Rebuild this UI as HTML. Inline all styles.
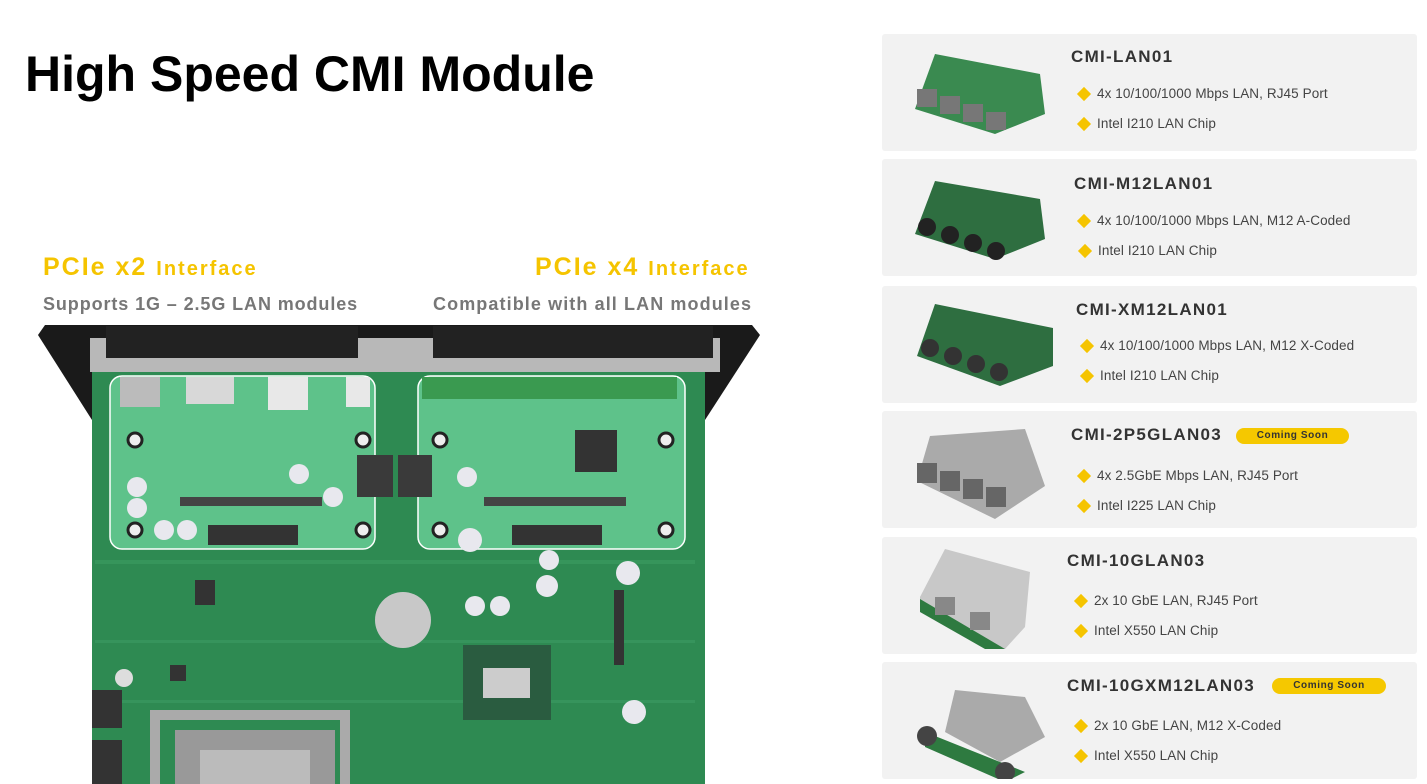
<!DOCTYPE html>
<html><head><meta charset="utf-8"><style>
*{margin:0;padding:0;box-sizing:border-box}
body{width:1427px;height:784px;background:#fff;position:relative;overflow:hidden;font-family:"Liberation Sans",sans-serif}
.a{position:absolute;white-space:nowrap}
.card{position:absolute;left:882px;width:535px;height:117px;background:#f2f2f2;border-radius:3px}
.t{position:absolute;font-weight:bold;font-size:17px;color:#333;letter-spacing:1.3px}
.b{position:absolute;font-size:13.5px;color:#444;letter-spacing:0.1px}
.b:before{content:"";position:absolute;left:-18px;top:3px;width:10px;height:10px;background:#f5c400;transform:rotate(45deg)}
.cs{position:absolute;background:#f5c800;border-radius:9px;font-size:10px;font-weight:bold;color:#333;text-align:center;line-height:16px;height:16px;letter-spacing:0.6px}
</style></head><body>
<div class="a" style="left:25px;top:45px;font-size:50px;font-weight:bold;color:#000">High Speed CMI Module</div>
<div class="a" style="left:43px;top:253px;color:#f5c400;font-weight:bold;font-size:25px;letter-spacing:2px">PCIe x2 <span style="font-size:20px">Interface</span></div>
<div class="a" style="left:43px;top:294px;color:#777;font-weight:bold;font-size:18px;letter-spacing:0.9px">Supports 1G – 2.5G LAN modules</div>
<div class="a" style="left:535px;top:253px;color:#f5c400;font-weight:bold;font-size:25px;letter-spacing:2px">PCIe x4 <span style="font-size:20px">Interface</span></div>
<div class="a" style="left:433px;top:294px;color:#777;font-weight:bold;font-size:18px;letter-spacing:1.1px">Compatible with all LAN modules</div>

<svg class="a" style="left:0;top:0" width="880" height="784">
<polygon points="45,325 752,325 760,335 705,420 92,420 38,335" fill="#1a1a1a"/>
<rect x="92" y="370" width="613" height="414" fill="#2e8a52"/>
<rect x="90" y="338" width="630" height="34" fill="#b8b8b8"/>
<rect x="106" y="326" width="252" height="32" fill="#222"/>
<rect x="433" y="326" width="280" height="32" fill="#222"/>
<g fill="#3c9c63" opacity="0.6">
<rect x="95" y="560" width="600" height="4"/><rect x="95" y="640" width="600" height="3"/><rect x="95" y="700" width="600" height="3"/>
</g>
<rect x="110" y="376" width="265" height="173" rx="12" fill="#5ec28a" stroke="#fff" stroke-width="1.5"/>
<rect x="418" y="376" width="267" height="173" rx="12" fill="#5ec28a" stroke="#fff" stroke-width="1.5"/>
<rect x="186" y="377" width="48" height="27" fill="#d8d8d8"/><rect x="268" y="377" width="40" height="33" fill="#e8e8e8"/><rect x="346" y="377" width="24" height="30" fill="#e8e8e8"/>
<rect x="120" y="377" width="40" height="30" fill="#bbb"/>
<rect x="422" y="377" width="255" height="22" fill="#3a9a50"/>
<rect x="180" y="497" width="142" height="9" fill="#444"/><rect x="484" y="497" width="142" height="9" fill="#444"/>
<rect x="208" y="525" width="90" height="20" fill="#333"/><rect x="512" y="525" width="90" height="20" fill="#333"/>
<rect x="575" y="430" width="42" height="42" fill="#333"/>
<rect x="357" y="455" width="36" height="42" fill="#3a3a3a"/><rect x="398" y="455" width="34" height="42" fill="#3a3a3a"/>
<g fill="#eee" stroke="#222" stroke-width="3">
<circle cx="135" cy="440" r="7"/><circle cx="363" cy="440" r="7"/><circle cx="135" cy="530" r="7"/><circle cx="363" cy="530" r="7"/>
<circle cx="440" cy="440" r="7"/><circle cx="666" cy="440" r="7"/><circle cx="440" cy="530" r="7"/><circle cx="666" cy="530" r="7"/>
</g>
<g fill="#e8e8ee">
<circle cx="137" cy="487" r="10"/><circle cx="137" cy="508" r="10"/><circle cx="164" cy="530" r="10"/><circle cx="187" cy="530" r="10"/>
<circle cx="299" cy="474" r="10"/><circle cx="333" cy="497" r="10"/><circle cx="467" cy="477" r="10"/><circle cx="470" cy="540" r="12"/>
<circle cx="547" cy="586" r="11"/><circle cx="549" cy="560" r="10"/><circle cx="475" cy="606" r="10"/><circle cx="500" cy="606" r="10"/>
<circle cx="628" cy="573" r="12"/><circle cx="634" cy="712" r="12"/>
</g>
<circle cx="403" cy="620" r="28" fill="#c8c8c8"/>
<rect x="463" y="645" width="88" height="75" fill="#2a5c40"/><rect x="483" y="668" width="47" height="30" fill="#ccc"/>
<rect x="614" y="590" width="10" height="75" fill="#333"/>
<path d="M155,784 V715 H345 V784" fill="none" stroke="#aaa" stroke-width="10"/>
<rect x="175" y="730" width="160" height="54" fill="#999"/><rect x="200" y="750" width="110" height="34" fill="#bbb"/>
<rect x="92" y="690" width="30" height="38" fill="#333"/><rect x="92" y="740" width="30" height="44" fill="#333"/>
<circle cx="124" cy="678" r="9" fill="#ddd"/>
<rect x="195" y="580" width="20" height="25" fill="#333"/><rect x="170" y="665" width="16" height="16" fill="#333"/>
</svg>

<div class="card" style="top:34px"></div>
<div class="card" style="top:159px"></div>
<div class="card" style="top:286px"></div>
<div class="card" style="top:411px"></div>
<div class="card" style="top:537px"></div>
<div class="card" style="top:662px"></div>

<svg class="a" style="left:905px;top:34px" width="160" height="745">
<g transform="translate(0,0)"><polygon points="30,20 135,40 140,80 90,100 10,75" fill="#3a8a50"/><g fill="#777"><rect x="12" y="55" width="20" height="18"/><rect x="35" y="62" width="20" height="18"/><rect x="58" y="70" width="20" height="18"/><rect x="81" y="78" width="20" height="18"/></g></g>
<g transform="translate(0,125)"><polygon points="30,22 135,40 140,80 90,100 10,75" fill="#2e6e40"/><g fill="#222"><circle cx="22" cy="68" r="9"/><circle cx="45" cy="76" r="9"/><circle cx="68" cy="84" r="9"/><circle cx="91" cy="92" r="9"/></g></g>
<g transform="translate(0,252)"><polygon points="30,18 148,42 148,80 95,100 12,70" fill="#2e6e40"/><g fill="#333"><circle cx="25" cy="62" r="9"/><circle cx="48" cy="70" r="9"/><circle cx="71" cy="78" r="9"/><circle cx="94" cy="86" r="9"/></g></g>
<g transform="translate(0,377)"><polygon points="25,25 120,18 140,75 90,108 12,70" fill="#aaa"/><g fill="#666"><rect x="12" y="52" width="20" height="20"/><rect x="35" y="60" width="20" height="20"/><rect x="58" y="68" width="20" height="20"/><rect x="81" y="76" width="20" height="20"/></g></g>
<g transform="translate(0,503)"><polygon points="15,60 40,12 125,35 120,90 100,112 15,70" fill="#c8c8c8"/><polygon points="15,62 100,112 80,112 15,75" fill="#2e7a40"/><rect x="30" y="60" width="20" height="18" fill="#888"/><rect x="65" y="75" width="20" height="18" fill="#888"/></g>
<g transform="translate(0,628)"><polygon points="50,28 120,35 140,75 95,100 40,70" fill="#aaa"/><polygon points="20,70 95,100 120,110 100,120 20,85" fill="#2e7a40"/><circle cx="22" cy="74" r="10" fill="#444"/><circle cx="100" cy="110" r="10" fill="#444"/></g>
</svg>

<div class="t" style="left:1071px;top:47px">CMI-LAN01</div>
<div class="b" style="left:1097px;top:86px">4x 10/100/1000 Mbps LAN, RJ45 Port</div>
<div class="b" style="left:1097px;top:116px">Intel I210 LAN Chip</div>

<div class="t" style="left:1074px;top:174px">CMI-M12LAN01</div>
<div class="b" style="left:1097px;top:213px">4x 10/100/1000 Mbps LAN, M12 A-Coded</div>
<div class="b" style="left:1098px;top:243px">Intel I210 LAN Chip</div>

<div class="t" style="left:1076px;top:300px">CMI-XM12LAN01</div>
<div class="b" style="left:1100px;top:338px">4x 10/100/1000 Mbps LAN, M12 X-Coded</div>
<div class="b" style="left:1100px;top:368px">Intel I210 LAN Chip</div>

<div class="t" style="left:1071px;top:425px">CMI-2P5GLAN03</div>
<div class="cs" style="left:1236px;top:428px;width:113px">Coming Soon</div>
<div class="b" style="left:1097px;top:468px">4x 2.5GbE Mbps LAN, RJ45 Port</div>
<div class="b" style="left:1097px;top:498px">Intel I225 LAN Chip</div>

<div class="t" style="left:1067px;top:551px">CMI-10GLAN03</div>
<div class="b" style="left:1094px;top:593px">2x 10 GbE LAN, RJ45 Port</div>
<div class="b" style="left:1094px;top:623px">Intel X550 LAN Chip</div>

<div class="t" style="left:1067px;top:676px">CMI-10GXM12LAN03</div>
<div class="cs" style="left:1272px;top:678px;width:114px">Coming Soon</div>
<div class="b" style="left:1094px;top:718px">2x 10 GbE LAN, M12 X-Coded</div>
<div class="b" style="left:1094px;top:748px">Intel X550 LAN Chip</div>
</body></html>
